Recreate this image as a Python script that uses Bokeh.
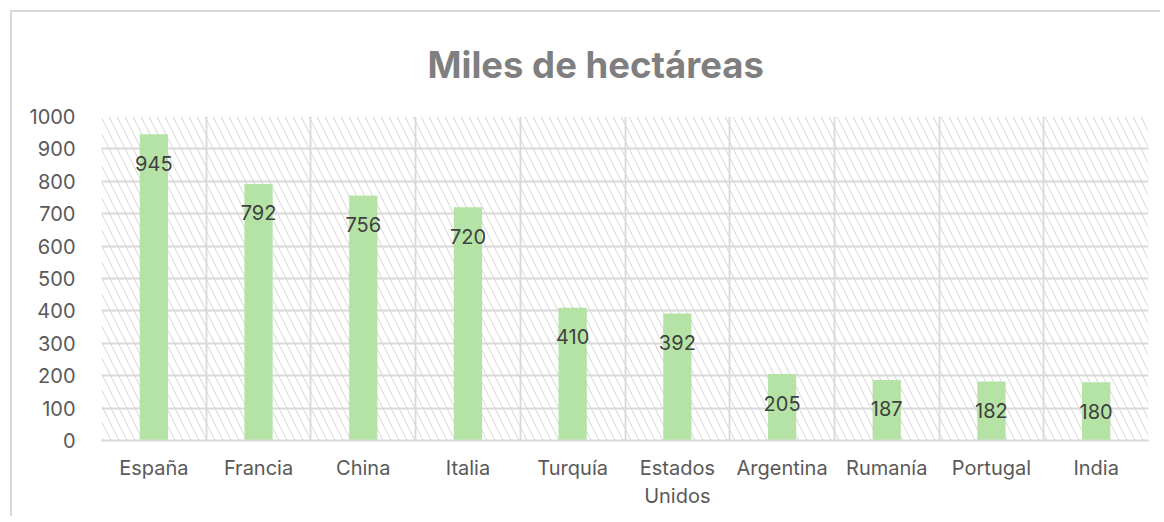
from bokeh.plotting import figure
from bokeh.models import ColumnDataSource, FixedTicker, Range1d, BoxAnnotation
from bokeh.core.properties import value
from bokeh.embed import file_html
from bokeh.resources import INLINE

countries = ["España", "Francia", "China", "Italia", "Turquía", "Estados\nUnidos",
             "Argentina", "Rumanía", "Portugal", "India"]
hectares = [945, 792, 756, 720, 410, 392, 205, 187, 182, 180]
y_ticks = [0, 100, 200, 300, 400, 500, 600, 700, 800, 900, 1000]
title_text = "Miles de hectáreas"

n = len(countries)
x_pos = [i + 0.5 for i in range(n)]
src = ColumnDataSource(dict(x=x_pos, top=hectares, label=[str(v) for v in hectares]))

FONT = "Inter"
GRID = "#d9d9d9"

p = figure(output_backend="svg", toolbar_location=None,
           x_range=Range1d(0, n), y_range=Range1d(0, 1000),
           frame_width=1047, frame_height=324,
           min_border_left=89, min_border_right=12, min_border_top=104, min_border_bottom=76,
           background_fill_color="white", border_fill_color="white")
p.margin = (10, 0, 0, 10)
p.styles = {"border-top": "2px solid #d9d9d9", "border-left": "2px solid #d9d9d9"}
p.outline_line_color = None

# hatched plot area
hatch = BoxAnnotation(level="image", fill_color=None, fill_alpha=0, line_color=None,
                      hatch_pattern="\\", hatch_color="#d6d6d6", hatch_scale=16, hatch_weight=1)
p.add_layout(hatch)

p.vbar(x="x", top="top", width=0.27, bottom=0, source=src,
       fill_color="#b5e3a5", line_color=None)

p.text(x="x", y="top", text="label", source=src, text_align="center",
       text_baseline="middle", y_offset=29, text_color="#404040",
       text_font=value(FONT), text_font_size="20px")

# grids
p.xgrid.ticker = FixedTicker(ticks=list(range(n + 1)))
p.ygrid.ticker = FixedTicker(ticks=y_ticks)
for g in (p.xgrid, p.ygrid):
    g.grid_line_color = GRID
    g.grid_line_width = 1.8
    g.level = "underlay"

# axes
p.yaxis.ticker = FixedTicker(ticks=y_ticks)
p.yaxis.axis_line_color = None
p.yaxis.major_tick_line_color = None
p.yaxis.minor_tick_line_color = None
p.yaxis.major_tick_out = 0
p.yaxis.major_label_standoff = 26
p.yaxis.major_label_text_font = FONT
p.yaxis.major_label_text_font_size = "20px"
p.yaxis.major_label_text_color = "#595959"

p.xaxis.ticker = FixedTicker(ticks=x_pos)
p.xaxis.major_label_overrides = {x: c for x, c in zip(x_pos, countries)}
p.xaxis.axis_line_color = GRID
p.xaxis.axis_line_width = 1.8
p.xaxis.major_tick_line_color = None
p.xaxis.minor_tick_line_color = None
p.xaxis.major_tick_out = 0
p.xaxis.major_label_standoff = 15
p.xaxis.major_label_text_font = FONT
p.xaxis.major_label_text_font_size = "20px"
p.xaxis.major_label_text_color = "#595959"

p.title.text = title_text
p.title.align = "left"
p.title.offset = 326
p.title.vertical_align = "top"
p.title.standoff = 56
p.title.text_font = FONT
p.title.text_font_style = "bold"
p.title.text_font_size = "36.5px"
p.title.text_color = "#7f7f7f"

open("out.html", "w").write(file_html(p, INLINE))
